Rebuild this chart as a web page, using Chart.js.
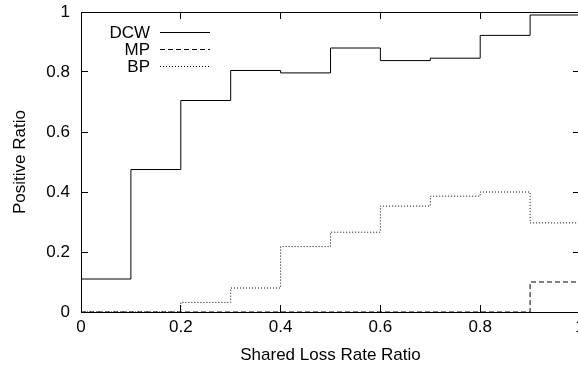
<!DOCTYPE html>
<html>
<head>
<meta charset="utf-8">
<script src="https://cdn.jsdelivr.net/npm/chart.js@4"></script>
<style>
    html, body { margin: 0; padding: 0; overflow: hidden; background: #fff; }
    #wrap { width: 584px; height: 368px; }
</style>
</head>
<body>
<div id="wrap"><canvas id="lossChart" width="584" height="368"></canvas></div>
<script>
// بيانات الرسم البياني (قراءة تقريبية من الصورة)
const binEdges = [0, 0.1, 0.2, 0.3, 0.4, 0.5, 0.6, 0.7, 0.8, 0.9, 1.0];
const dcwValues = [0.11, 0.475, 0.705, 0.805, 0.797, 0.88, 0.838, 0.846, 0.922, 0.99];
const mpValues = [0, 0, 0, 0, 0, 0, 0, 0, 0, 0.10];
const bpValues = [0, 0, 0.032, 0.08, 0.218, 0.266, 0.353, 0.386, 0.4, 0.297];
const seriesLabels = ['DCW', 'MP', 'BP'];
const xTitle = 'Shared Loss Rate Ratio';
const yTitle = 'Positive Ratio';

// تحويل القيم إلى نقاط درجية (القيمة الأخيرة تمتد حتى الحافة الأخيرة)
function toSteps(values) {
    return binEdges.map((x, i) => ({ x: x, y: values[Math.min(i, values.length - 1)] }));
}

// تنسيق أرقام المحاور بدون أصفار زائدة
function tickText(value) {
    return String(Number(value.toFixed(2)));
}

// تثبيت حجم المحور وإلغاء الحشو التلقائي
function fixSize(w, h) {
    return function(scale) {
        if (w !== null) scale.width = w;
        if (h !== null) scale.height = h;
        scale.paddingLeft = 0;
        scale.paddingRight = 0;
        scale.paddingTop = 0;
        scale.paddingBottom = 0;
    };
}

Chart.defaults.font.family = "'Liberation Sans', Arial, sans-serif";
Chart.defaults.font.size = 17;
Chart.defaults.color = '#000';

// وسيلة الإيضاح داخل منطقة الرسم (النص على اليسار والخط على اليمين)
const insideLegend = {
    id: 'insideLegend',
    afterDatasetsDraw(chart) {
        const ctx = chart.ctx;
        const area = chart.chartArea;
        ctx.save();
        ctx.font = "17px 'Liberation Sans', Arial, sans-serif";
        ctx.textAlign = 'right';
        ctx.textBaseline = 'middle';
        chart.data.datasets.forEach((ds, i) => {
            const y = area.top + 20 + i * 17;
            ctx.fillStyle = '#000';
            ctx.fillText(ds.label, area.left + 69, y + 1);
            ctx.beginPath();
            ctx.setLineDash(ds.borderDash || []);
            ctx.strokeStyle = ds.borderColor;
            ctx.lineWidth = 1;
            ctx.moveTo(area.left + 79, y + 0.5);
            ctx.lineTo(area.left + 129, y + 0.5);
            ctx.stroke();
        });
        ctx.restore();
    }
};

const ctx = document.getElementById('lossChart').getContext('2d');

new Chart(ctx, {
    type: 'line',
    data: {
        datasets: [
            { label: seriesLabels[0], data: toSteps(dcwValues), borderColor: '#000', borderWidth: 1, stepped: 'before', pointRadius: 0, fill: false },
            { label: seriesLabels[1], data: toSteps(mpValues), borderColor: '#000', borderWidth: 1, borderDash: [5, 3], stepped: 'before', pointRadius: 0, fill: false },
            { label: seriesLabels[2], data: toSteps(bpValues), borderColor: '#000', borderWidth: 1, borderDash: [1, 2], stepped: 'before', pointRadius: 0, fill: false }
        ]
    },
    options: {
        responsive: false,
        animation: false,
        layout: { autoPadding: false, padding: { top: 12, right: 4, left: 0, bottom: 0 } },
        plugins: {
            legend: { display: false },
            tooltip: { enabled: false }
        },
        scales: {
            x: {
                type: 'linear',
                position: 'bottom',
                z: 1,
                min: 0,
                max: 1,
                ticks: { stepSize: 0.2, padding: 12, maxRotation: 0, color: '#000', callback: tickText },
                grid: { drawOnChartArea: false, tickLength: -7, color: '#000' },
                border: { color: '#000', width: 1 },
                title: { display: true, text: xTitle, color: '#000', padding: { top: 0, bottom: 2 } },
                afterFit: fixSize(null, 56)
            },
            x2: {
                type: 'linear',
                position: 'top',
                z: 1,
                min: 0,
                max: 1,
                ticks: { display: false, stepSize: 0.2 },
                grid: { drawOnChartArea: false, tickLength: -7, color: '#000' },
                border: { color: '#000', width: 1 },
                afterFit: fixSize(null, 0)
            },
            y: {
                type: 'linear',
                position: 'left',
                z: 1,
                min: 0,
                max: 1,
                ticks: { stepSize: 0.2, padding: 18, color: '#000', callback: tickText },
                grid: { drawOnChartArea: false, tickLength: -7, color: '#000' },
                border: { color: '#000', width: 1 },
                title: { display: true, text: yTitle, color: '#000', padding: { top: 10, bottom: 0 } },
                afterFit: fixSize(81, null)
            },
            y2: {
                type: 'linear',
                position: 'right',
                z: 1,
                min: 0,
                max: 1,
                ticks: { display: false, stepSize: 0.2 },
                grid: { drawOnChartArea: false, tickLength: -7, color: '#000' },
                border: { color: '#000', width: 1 },
                afterFit: fixSize(0, null)
            }
        }
    },
    plugins: [insideLegend]
});
</script>
</body>
</html>
